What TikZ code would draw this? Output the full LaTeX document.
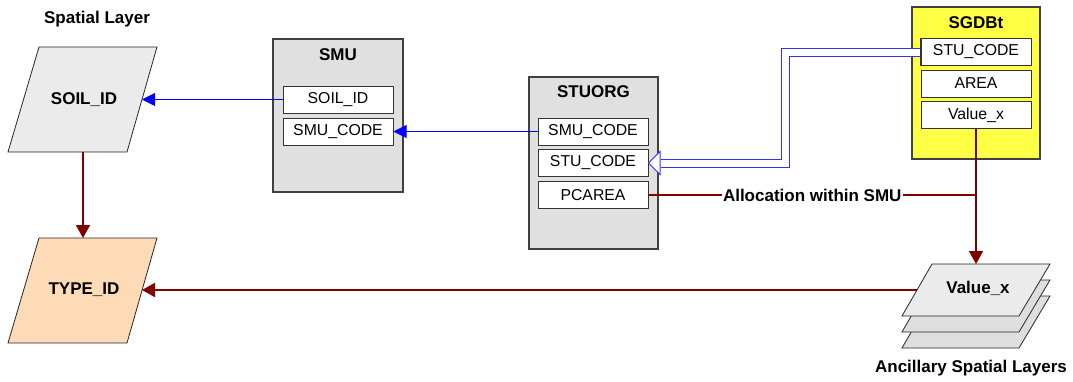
\documentclass[tikz,border=0pt]{standalone}
\usepackage{fontspec}
\setmainfont{Liberation Sans}
\usetikzlibrary{arrows.meta,calc}
\definecolor{dred}{HTML}{800000}
\definecolor{boxgray}{HTML}{E0E0E0}
\definecolor{sgyellow}{HTML}{FFFF45}
\definecolor{layergray}{HTML}{EBEBEB}
\definecolor{layergray2}{HTML}{DEDEDE}
\definecolor{peach}{HTML}{FDDBB6}
\tikzset{
  tbl/.style={draw=black!75, line width=1.2pt},
  fld/.style={draw=black!80, line width=1pt, fill=white, minimum width=110pt, minimum height=27pt, inner sep=0pt, font=\fontsize{15.8}{18}\selectfont},
  hdr/.style={font=\fontsize{17}{20}\selectfont\bfseries, inner sep=0pt},
  lbl/.style={font=\fontsize{17}{20}\selectfont\bfseries, inner sep=0pt},
  para/.style={draw=black!85, line width=0.8pt},
  bluearr/.style={draw=blue, line width=1pt, -{Triangle[length=13pt,width=13pt]}},
  redline/.style={draw=dred, line width=1.7pt},
  redarr/.style={redline, -{Triangle[length=13pt,width=14pt]}},
  dbl/.style={draw=blue!80, line width=1pt, double=white, double distance=7pt},
}
\begin{document}
\begin{tikzpicture}[x=1pt,y=-1pt]
\useasboundingbox (0,0) rectangle (1073,381);

% Spatial layer parallelograms
\draw[para, fill=layergray] (39,47) -- (157,47) -- (127,152) -- (8,152) -- cycle;
\node[lbl] (soil) at (84,100) {SOIL\_ID};
\coordinate (soil-e) at (142,99.5);
\coordinate (soil-s) at (83,152);
\node[lbl] (spatial) at (97,19) {Spatial Layer};

\draw[para, fill=peach] (39,238) -- (157,238) -- (127,343) -- (8,343) -- cycle;
\node[lbl] (type) at (84,290) {TYPE\_ID};
\coordinate (type-e) at (142,290);
\coordinate (type-n) at (83,238);

% SMU table
\draw[tbl, fill=boxgray] (273,39) rectangle (403,192);
\node[hdr] (smuh) at (338,55) {SMU};
\node[fld] (smu-soil) at (338,99.5) {SOIL\_ID};
\node[fld] (smu-code) at (338,131.5) {SMU\_CODE};

% STUORG table
\draw[tbl, fill=boxgray] (529,77) rectangle (658,249);
\node[hdr] (stuorgh) at (593.5,92) {STUORG};
\node[fld] (st-smu) at (593,131.5) {SMU\_CODE};
\node[fld] (st-stu) at (593,163) {STU\_CODE};
\node[fld] (st-pc) at (593,195) {PCAREA};

% SGDBt table
\draw[tbl, fill=sgyellow] (912,7) rectangle (1040,159);
\node[hdr] (sgh) at (976,23) {SGDBt};
\node[fld] (sg-stu) at (976,52) {STU\_CODE};
\node[fld] (sg-area) at (976,83.5) {AREA};
\node[fld] (sg-val) at (976,115) {Value\_x};

% Ancillary layer stack
\draw[para, fill=layergray2] (932,296) -- (1050,296) -- (1019,348) -- (902,348) -- cycle;
\draw[para, fill=layergray2] (932,280) -- (1050,280) -- (1019,332) -- (902,332) -- cycle;
\draw[para, fill=layergray] (932,264) -- (1050,264) -- (1019,316) -- (902,316) -- cycle;
\node[lbl] (valx) at (978,288) {Value\_x};
\coordinate (stack-w) at (917,290);
\coordinate (stack-n) at (976,264);
\node[lbl] (anc) at (971,368) {Ancillary Spatial Layers};

% Blue connectors
\draw[bluearr] (smu-soil.west) -- (soil-e);
\draw[bluearr] (st-smu.west) -- (smu-code.east);

% Double hollow arrow
\coordinate (d0) at (sg-stu.west);
\coordinate (d1) at (785,52);
\coordinate (d2) at (785,163);
\coordinate (d3) at (660.6,163);
\draw[draw=blue!80, line width=1pt, fill=white] (st-stu.east) -- (660,151.5) -- (660,174.5) -- cycle;
\draw[dbl] (d0) -- (d1) -- (d2) -- (d3);
\draw[draw=black!80, line width=1pt] (sg-stu.north west) -- (sg-stu.south west);

% Dark red connectors
\draw[redarr] (soil-s) -- (type-n);
\draw[redarr] (stack-w) -- (type-e);
\coordinate (j) at (976,195);
\draw[redarr] (sg-val.south) -- (stack-n);
\draw[redline] (st-pc.east) -- node[lbl, fill=white, inner xsep=1pt, inner ysep=2pt] (alloc) {Allocation within SMU} (j);
\end{tikzpicture}
\end{document}
